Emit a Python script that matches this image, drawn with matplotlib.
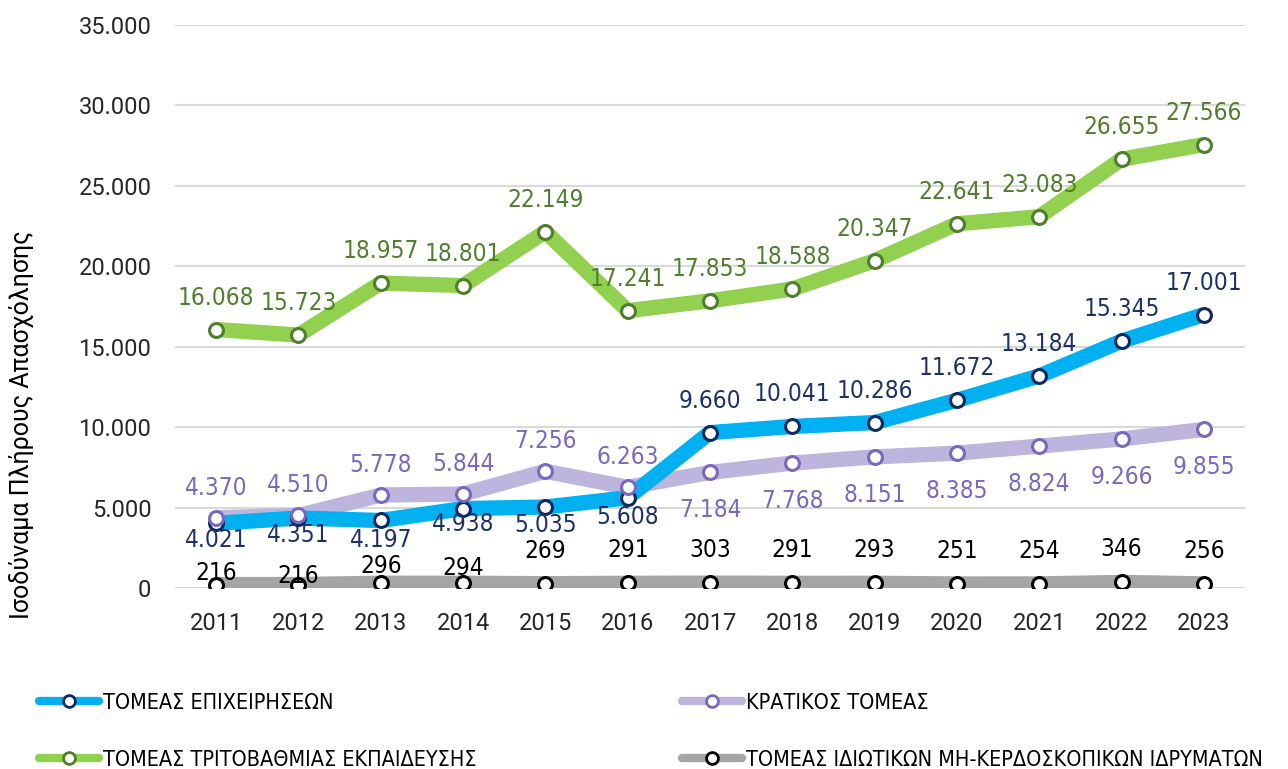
import matplotlib
matplotlib.use("Agg")
import matplotlib.pyplot as plt
from matplotlib.lines import Line2D
import numpy as np

years = ["2011", "2012", "2013", "2014", "2015", "2016", "2017", "2018", "2019", "2020", "2021", "2022", "2023"]
business = [4021, 4351, 4197, 4938, 5035, 5608, 9660, 10041, 10286, 11672, 13184, 15345, 17001]
government = [4370, 4510, 5778, 5844, 7256, 6263, 7184, 7768, 8151, 8385, 8824, 9266, 9855]
higher_ed = [16068, 15723, 18957, 18801, 22149, 17241, 17853, 18588, 20347, 22641, 23083, 26655, 27566]
private_np = [216, 216, 296, 294, 269, 291, 303, 291, 293, 251, 254, 346, 256]

names = ["ΤΟΜΕΑΣ ΕΠΙΧΕΙΡΗΣΕΩΝ", "ΚΡΑΤΙΚΟΣ ΤΟΜΕΑΣ",
         "ΤΟΜΕΑΣ ΤΡΙΤΟΒΑΘΜΙΑΣ ΕΚΠΑΙΔΕΥΣΗΣ", "ΤΟΜΕΑΣ ΙΔΙΩΤΙΚΩΝ ΜΗ-ΚΕΡΔΟΣΚΟΠΙΚΩΝ ΙΔΡΥΜΑΤΩΝ"]
ylabel = "Ισοδύναμα Πλήρους Απασχόλησης"

LBL_FONT = ["DejaVu Sans"]
TICK_FONT = ["Roboto", "DejaVu Sans"]

def fmt(v):
    return f"{v:,}".replace(",", ".")

fig = plt.figure(figsize=(12.88, 7.69), dpi=100)
W, H = 1288, 769
ax = fig.add_axes([175 / W, 1 - 588 / H, (1245 - 175) / W, (588 - 25) / H])
x = np.arange(len(years))

ax.set_xlim(-0.5, len(years) - 0.5)
ax.set_ylim(0, 35000)
ax.set_yticks(np.arange(0, 35001, 5000))
ax.set_yticklabels([fmt(v) for v in range(0, 35001, 5000)])
ax.set_xticks(x)
ax.set_xticklabels(years)
for s in ax.spines.values():
    s.set_visible(False)
ax.grid(axis="y", color="#D9D9D9", linewidth=1.5, zorder=0)
ax.set_axisbelow(True)
ax.tick_params(length=0)
ax.tick_params(axis="y", pad=17)
ax.tick_params(axis="x", pad=17)
for t in ax.get_xticklabels() + ax.get_yticklabels():
    t.set_fontfamily(TICK_FONT)
    t.set_fontsize(17)
    t.set_color("#262626")

series = [
    (business, "#00B0F0", "#0E2A5E", "#1B3168"),
    (government, "#BDB5DD", "#7A68BE", "#7A68BE"),
    (higher_ed, "#92D050", "#4F7F2E", "#4F7F2E"),
    (private_np, "#A5A5A5", "#000000", "#000000"),
]

lw = 11
line_z = {0: 3, 1: 2, 2: 4, 3: 1}
for i, (vals, lc, mc, tc) in enumerate(series):
    ax.plot(x, vals, color=lc, linewidth=lw, solid_capstyle="butt",
            solid_joinstyle="round", zorder=line_z[i])
mark_z = {0: 5, 1: 6, 2: 7, 3: 5}
for i, (vals, lc, mc, tc) in enumerate(series):
    ax.plot(x, vals, linestyle="none", marker="o", markersize=10,
            markerfacecolor="white", markeredgecolor=mc, markeredgewidth=2.2,
            zorder=mark_z[i])

# label offsets (pixels), style only
blue_off = [-17, -17, -20, -15, -18, -19] + [32] * 7
purple_off = [30] * 6 + [-38] * 7
green_off = [32] * 13
gray_off = [12, 9, 17, 15] + [33] * 9
offsets = [blue_off, purple_off, green_off, gray_off]

for i, (vals, lc, mc, tc) in enumerate(series):
    for xi, v, off in zip(x, vals, offsets[i]):
        ax.annotate(fmt(v), (xi, v), xytext=(0, off), textcoords="offset pixels",
                    ha="center", va="center", fontsize=17.5, color=tc,
                    fontfamily=LBL_FONT, fontstretch="condensed", zorder=10)

fig.text(22 / W, 1 - 425 / H, ylabel, rotation=90, ha="center", va="center",
         fontsize=18, fontfamily=TICK_FONT, color="#000000")

def handle(i):
    vals, lc, mc, tc = series[i]
    return Line2D([], [], color=lc, linewidth=6, marker="o", markersize=8.5,
                  markerfacecolor="white", markeredgecolor=mc, markeredgewidth=2,
                  solid_capstyle="round")

for col, idxs, xpos in [(0, [0, 2], 30), (1, [1, 3], 673)]:
    leg = fig.legend([handle(j) for j in idxs], [names[j] for j in idxs],
                     loc="upper left", bbox_to_anchor=(xpos / W, 1 - 684 / H),
                     frameon=False, handlelength=2.8, handletextpad=0.2,
                     labelspacing=1.72, borderaxespad=0,
                     prop={"family": LBL_FONT, "size": 15.5, "stretch": "condensed"})
    for t in leg.get_texts():
        t.set_color("#000000")

fig.savefig("out.png", dpi=100)
